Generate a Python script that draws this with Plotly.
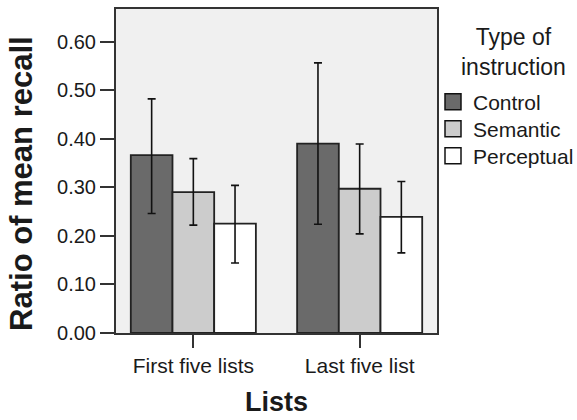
import plotly.graph_objects as go

categories = ["First five lists", "Last five list"]
series_names = ["Control", "Semantic", "Perceptual"]
series_colors = ["#6a6a6a", "#cccccc", "#ffffff"]
means = {
    "Control": [0.366, 0.390],
    "Semantic": [0.290, 0.297],
    "Perceptual": [0.225, 0.239],
}
upper = {
    "Control": [0.482, 0.556],
    "Semantic": [0.359, 0.389],
    "Perceptual": [0.304, 0.312],
}
lower = {
    "Control": [0.246, 0.224],
    "Semantic": [0.222, 0.204],
    "Perceptual": [0.144, 0.165],
}
y_ticks = [0.0, 0.1, 0.2, 0.3, 0.4, 0.5, 0.6]

FONT = "Liberation Sans, Arial, sans-serif"
W, H = 577, 420
legend_ids = ["legend", "legend2", "legend3"]
legend_rows_px = [102, 129, 156]

fig = go.Figure()
for i, name in enumerate(series_names):
    m = means[name]
    up = [u - v for u, v in zip(upper[name], m)]
    dn = [v - l for v, l in zip(m, lower[name])]
    fig.add_trace(go.Bar(
        x=categories, y=m, name=name, showlegend=False,
        marker=dict(color=series_colors[i], line=dict(color="#222222", width=1.8)),
        error_y=dict(type="data", symmetric=False, array=up, arrayminus=dn,
                     color="#111111", thickness=1.6, width=4),
    ))
for i, name in enumerate(series_names):
    fig.add_trace(go.Scatter(
        x=[None], y=[None], mode="markers", name=name, legend=legend_ids[i],
        marker=dict(symbol="square", size=16, color=series_colors[i],
                    line=dict(color="#111111", width=1.5)),
    ))

legend_common = dict(
    xref="container", yref="container", x=433 / W, xanchor="left",
    yanchor="middle", font=dict(size=21, family=FONT, color="#1a1a1a"),
    itemwidth=30, bgcolor="rgba(0,0,0,0)",
)

fig.update_layout(
    width=W, height=H,
    margin=dict(l=116, r=140, t=9, b=87, autoexpand=False),
    paper_bgcolor="white", plot_bgcolor="#f0f0f0",
    barmode="group", bargap=0.248, bargroupgap=0,
    font=dict(family=FONT, size=20, color="#1a1a1a"),
    legend=dict(legend_common, y=1 - legend_rows_px[0] / H),
    legend2=dict(legend_common, y=1 - legend_rows_px[1] / H),
    legend3=dict(legend_common, y=1 - legend_rows_px[2] / H),
    xaxis=dict(
        range=[-0.465, 1.465], showgrid=False, zeroline=False, automargin=False,
        showline=True, linecolor="#333333", linewidth=2, mirror=True,
        ticks="outside", ticklen=13, tickwidth=2, tickcolor="#333333",
        tickfont=dict(size=21),
    ),
    yaxis=dict(
        range=[0, 0.667], tickvals=y_ticks, tickformat=".2f", automargin=False,
        showgrid=False, zeroline=False,
        showline=True, linecolor="#333333", linewidth=2, mirror=True,
        ticks="outside", ticklen=14, tickwidth=2, tickcolor="#333333",
        tickfont=dict(size=20),
    ),
    annotations=[
        dict(text="<b>Ratio of mean recall</b>", textangle=-90,
             xref="paper", yref="paper", x=-0.293, y=0.463,
             xanchor="center", yanchor="middle", showarrow=False,
             font=dict(size=31, family=FONT, color="#1a1a1a")),
        dict(text="<b>Lists</b>",
             xref="paper", yref="paper", x=0.5, y=-0.214,
             xanchor="center", yanchor="middle", showarrow=False,
             font=dict(size=27, family=FONT, color="#1a1a1a")),
        dict(text="Type of<br>instruction", align="center",
             xref="paper", yref="paper", x=1.237, y=0.867,
             xanchor="center", yanchor="middle", showarrow=False,
             font=dict(size=23, family=FONT, color="#1a1a1a")),
    ],
)

fig.write_html("out.html", config={"displayModeBar": False},
               post_script="document.body.style.margin='0';")
